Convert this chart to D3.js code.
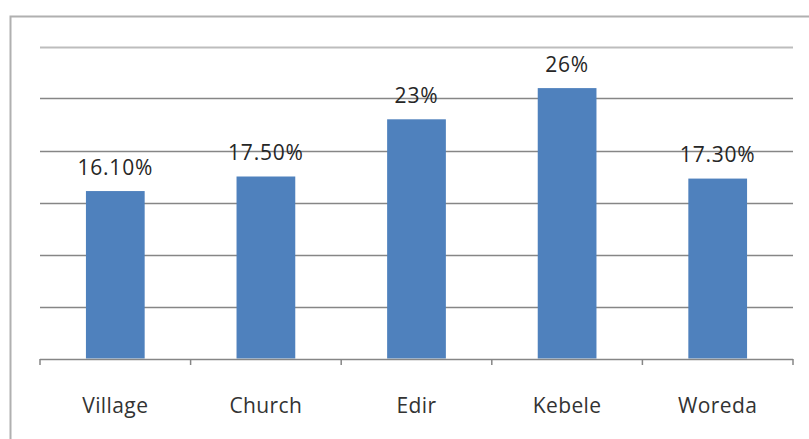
<!DOCTYPE html>
<html>
<head>
<meta charset="utf-8">
<script src="https://cdn.jsdelivr.net/npm/d3@7/dist/d3.min.js"></script>
<style>
  html, body { margin: 0; padding: 0; background: #fff; }
  svg { display: block; }
</style>
</head>
<body>
<svg id="chart" width="809" height="439"></svg>
<script>
// Share of respondents by institution
const categories = ["Village", "Church", "Edir", "Kebele", "Woreda"];
const values = [16.1, 17.5, 23, 26, 17.3];
const valueLabels = ["16.10%", "17.50%", "23%", "26%", "17.30%"];
const gridTicks = [5, 10, 15, 20, 25, 30];

const svg = d3.select("#chart");
const margin = { left: 40, right: 16, top: 46.5, bottom: 80.5 };
const W = 809, H = 439;
const x0 = margin.left, x1 = W - margin.right;
const y0 = H - margin.bottom, y1 = margin.top;

// outer chart frame (continues past the right and bottom edges)
svg.append("path")
  .attr("d", `M10.5,${H + 5} V16.5 H${W + 5}`)
  .attr("fill", "none")
  .attr("stroke", "#b0b0b0")
  .attr("stroke-width", 2);

const x = d3.scaleBand().domain(categories).range([x0, x1]).paddingInner(0.61).paddingOuter(0.305);
const xEdge = d3.scaleLinear().domain([0, categories.length]).range([x0, x1]);
const y = d3.scaleLinear().domain([0, 30]).range([y0, y1]);

// horizontal gridlines
svg.append("g")
  .selectAll("line")
  .data(gridTicks)
  .join("line")
  .attr("x1", x0).attr("x2", x1)
  .attr("y1", d => Math.round(y(d)) + 0.5)
  .attr("y2", d => Math.round(y(d)) + 0.5)
  .attr("stroke", d => d === 30 ? "#bdbdbd" : "#868686")
  .attr("stroke-width", d => d === 30 ? 2 : 1.5);

// bars
svg.append("g")
  .selectAll("rect")
  .data(values)
  .join("rect")
  .attr("x", (d, i) => x(categories[i]))
  .attr("width", x.bandwidth())
  .attr("y", d => y(d))
  .attr("height", d => y(0) - y(d))
  .attr("fill", "#4f81bd");

// category axis with tick marks between categories
const axis = svg.append("g");
axis.append("line")
  .attr("x1", x0).attr("x2", x1)
  .attr("y1", Math.round(y0) + 0.5).attr("y2", Math.round(y0) + 0.5)
  .attr("stroke", "#868686").attr("stroke-width", 1.5);
axis.selectAll("line.tick")
  .data(d3.range(categories.length + 1))
  .join("line")
  .attr("class", "tick")
  .attr("x1", d => xEdge(d)).attr("x2", d => xEdge(d))
  .attr("y1", Math.round(y0)).attr("y2", Math.round(y0) + 6)
  .attr("stroke", "#868686").attr("stroke-width", 1.5);

axis.selectAll("text")
  .data(categories)
  .join("text")
  .attr("x", d => x(d) + x.bandwidth() / 2)
  .attr("y", 412.5)
  .attr("text-anchor", "middle")
  .attr("font-family", "'Open Sans', sans-serif")
  .attr("font-size", 21)
  .attr("letter-spacing", 0.4)
  .attr("fill", "#333")
  .text(d => d);

// value labels above bars
svg.append("g")
  .selectAll("text")
  .data(values)
  .join("text")
  .attr("x", (d, i) => x(categories[i]) + x.bandwidth() / 2)
  .attr("y", d => y(d) - 16.5)
  .attr("text-anchor", "middle")
  .attr("font-family", "'Open Sans', sans-serif")
  .attr("font-size", 21)
  .attr("letter-spacing", 0.8)
  .attr("fill", "#262626")
  .text((d, i) => valueLabels[i]);
</script>
</body>
</html>
